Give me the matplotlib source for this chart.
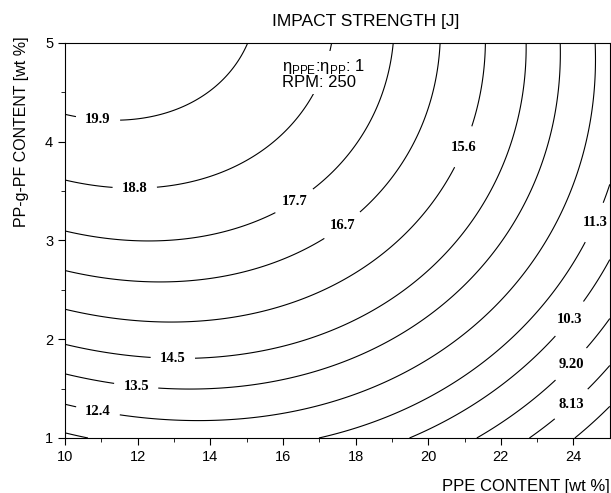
import matplotlib
matplotlib.use('Agg')
import matplotlib.pyplot as plt
import numpy as np

plt.rcParams['font.family'] = ['Liberation Sans', 'DejaVu Sans']
plt.rcParams['mathtext.fontset'] = 'custom'
plt.rcParams['mathtext.rm'] = 'Liberation Sans'

# contour levels and the texts printed on them
levels = [7.06, 8.13, 9.20, 10.3, 11.3, 12.4, 13.5, 14.5, 15.6, 16.7, 17.7, 18.8, 19.9]
level_text = ['7.06', '8.13', '9.20', '10.3', '11.3', '12.4', '13.5', '14.5',
              '15.6', '16.7', '17.7', '18.8', '19.9']

# points (PPE wt%, PP-g-PF wt%)
line_199 = [(10.0, 4.29), (11.96, 4.24), (12.97, 4.30), (13.93, 4.47), (15.12, 5.0)]
line_188 = [(10.0, 3.62), (12.6, 3.56), (13.79, 3.65), (14.98, 3.83), (16.62, 4.27), (17.32, 5.0)]
line_177 = [(10.0, 3.10), (12.0, 3.0), (13.0, 3.01), (14.0, 3.06), (15.0, 3.14),
            (15.8, 3.31), (16.9, 3.54), (17.26, 3.70), (18.45, 4.34), (18.99, 5.0)]
line_167 = [(10.0, 2.68), (11.96, 2.58), (12.97, 2.57), (15.34, 2.68), (17.21, 3.0),
            (18.17, 3.31), (20.0, 4.24), (20.41, 5.0)]
line_156 = [(10.0, 2.30), (12.97, 2.18), (17.53, 2.58), (21.56, 5.0)]
line_145 = [(10.0, 1.96), (17.53, 2.14), (22.66, 5.0)]
line_135 = [(10.0, 1.64), (14.61, 1.49), (17.53, 1.81), (23.64, 5.0)]
line_124 = [(10.0, 1.33), (14.43, 1.20), (17.53, 1.37), (24.58, 5.0)]
line_113 = [(10.0, 1.06), (10.74, 1.0), (16.95, 1.0), (24.29, 3.07), (24.84, 3.41), (25.0, 3.44)]
line_103 = [(19.59, 1.0), (23.64, 2.06), (24.29, 2.35), (24.88, 2.72)]
line_920 = [(21.37, 1.0), (23.56, 1.60), (24.38, 1.97), (24.88, 2.14)]
line_813 = [(22.82, 1.0), (23.56, 1.21), (24.38, 1.50), (24.88, 1.67)]
line_706 = [(24.06, 1.01), (24.88, 1.30)]

traces = [line_706, line_813, line_920, line_103, line_113, line_124, line_135,
          line_145, line_156, line_167, line_177, line_188, line_199]

# where the labels sit
label_pos = [(23.9, 1.36), (23.9, 1.76), (23.88, 2.21), (24.47, 3.2),
             (10.91, 1.28), (11.96, 1.53), (12.97, 1.84), (20.96, 3.95),
             (17.62, 3.16), (16.26, 3.43), (11.92, 3.56), (10.91, 4.24)]

# fit a smooth surface through the read points
px, py, pz = [], [], []
for lev, tr in zip(levels, traces):
    for a, b in tr:
        px.append(a); py.append(b); pz.append(lev)
px = np.array(px); py = np.array(py); pz = np.array(pz)


def terms(x, y):
    u = (x - 17.5) / 7.5
    v = (y - 3.0) / 2.0
    return [np.ones_like(u), u, v, u*u, v*v, u*v, u**3, v**3, u*u*v, u*v*v]


A = np.column_stack(terms(px, py))
coef = np.linalg.lstsq(A, pz, rcond=None)[0]

xg, yg = np.meshgrid(np.linspace(10, 25, 300), np.linspace(1, 5, 300))
zg = sum(c * t for c, t in zip(coef, terms(xg, yg)))

fig = plt.figure(figsize=(6.11, 4.93), dpi=100)
ax = fig.add_axes([0.1064, 0.1116, 0.8916, 0.8012])

cs = ax.contour(xg, yg, zg, levels=levels, colors='black', linewidths=0.8)
fmt = dict(zip(cs.levels, level_text))
labs = ax.clabel(cs, fmt=fmt, manual=label_pos, inline=True, inline_spacing=8,
                 fontsize=10.5)
for t in labs:
    t.set_rotation(0)
    t.set_fontfamily('Liberation Serif')
    t.set_fontweight('bold')

ax.set_xlim(10, 25)
ax.set_ylim(1, 5)
ax.set_xticks(np.arange(10, 25, 2))
ax.set_xticks(np.arange(11, 25, 2), minor=True)
ax.set_yticks([1, 2, 3, 4, 5])
ax.set_yticks([1.5, 2.5, 3.5, 4.5], minor=True)
ax.tick_params(which='both', direction='out', top=False, right=False, labelsize=10.5)
ax.tick_params(which='major', length=5)
ax.tick_params(which='minor', length=3)

fig.text(0.599, 0.956, 'IMPACT STRENGTH [J]', ha='center', va='center', fontsize=12.5)
fig.text(0.035, 0.732, 'PP-g-PF CONTENT [wt %]', rotation=90, ha='center', va='center', fontsize=11.5)
fig.text(0.998, 0.014, 'PPE CONTENT [wt %]', ha='right', va='center', fontsize=12)
ax.text(15.97, 4.69, 'η$_{\\rm PPE}$:η$_{\\rm PP}$: 1\nRPM: 250', fontsize=12,
        va='center', ha='left', linespacing=0.95, zorder=5,
        bbox=dict(facecolor='white', edgecolor='none', pad=3))

fig.savefig('out.png', dpi=100)
